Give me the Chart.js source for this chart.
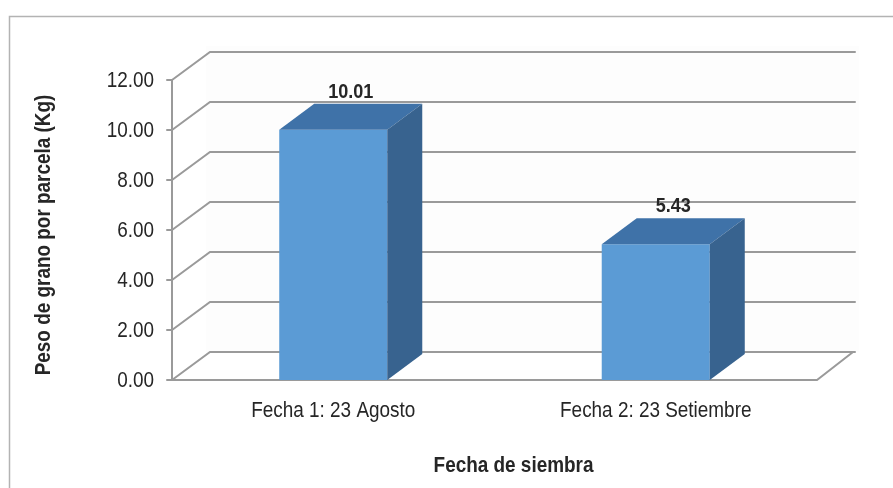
<!DOCTYPE html>
<html>
<head>
<meta charset="utf-8">
<script src="https://cdn.jsdelivr.net/npm/chart.js@4"></script>
<style>
  html, body { margin: 0; padding: 0; background: #fff; }
  canvas { display: block; }
</style>
</head>
<body>
<canvas id="canvas" width="893" height="488"></canvas>
<script>
const categories = ['Fecha 1: 23 Agosto', 'Fecha 2: 23 Setiembre']
const pesoGrano = [10.01, 5.43]
const yTicks = [0, 2, 4, 6, 8, 10, 12]
const yTitle = 'Peso de grano por parcela (Kg)'
const xTitle = 'Fecha de siembra'

// no Arial Narrow here, so Liberation Sans gets squeezed sideways
const family = '"Liberation Sans", Arial, sans-serif'
const squeeze = 0.86
const textColor = '#262626'
const gridColor = '#9a9a9a'
// depth of the walls and of the bars (3d look)
const wallDx = 38, wallDy = -28
const barDx = 35, barDy = -26

function narrowText(ctx, text, x, y, font, align, rotate) {
    ctx.save()
    ctx.translate(x, y)
    if (rotate) ctx.rotate(-Math.PI / 2)
    ctx.scale(squeeze, 1)
    ctx.font = font
    ctx.fillStyle = textColor
    ctx.textAlign = align
    ctx.textBaseline = 'middle'
    ctx.fillText(text, 0, 0)
    ctx.restore()
}

const frame = {
    id: 'frame',
    beforeDraw(chart) {
        const ctx = chart.ctx
        ctx.save()
        ctx.strokeStyle = '#b3b3b3'
        ctx.lineWidth = 1.5
        ctx.strokeRect(9.5, 16.5, 1000, 1000)
        ctx.restore()
    }
}

const walls = {
    id: 'walls',
    beforeDatasetsDraw(chart) {
        const ctx = chart.ctx
        const a = chart.chartArea
        const y = chart.scales.y
        const top = y.getPixelForValue(yTicks[yTicks.length - 1])
        const base = y.getPixelForValue(0)
        ctx.save()
        // faint back wall
        ctx.fillStyle = '#fdfdfd'
        ctx.fillRect(a.left + wallDx - 4, top + wallDy - 6, a.right - a.left + 8, base - top + 6)
        ctx.strokeStyle = gridColor
        ctx.lineWidth = 2
        ctx.lineCap = 'round'
        yTicks.forEach(v => {
            const py = y.getPixelForValue(v)
            ctx.beginPath()
            ctx.moveTo(a.left, py)
            ctx.lineTo(a.left + wallDx, py + wallDy)
            ctx.lineTo(a.right + wallDx, py + wallDy)
            ctx.stroke()
            // tick mark
            ctx.beginPath()
            ctx.moveTo(a.left - 5, py)
            ctx.lineTo(a.left, py)
            ctx.stroke()
        })
        // axis line and floor
        ctx.beginPath()
        ctx.moveTo(a.left, top)
        ctx.lineTo(a.left, base)
        ctx.lineTo(a.right, base)
        ctx.lineTo(a.right + wallDx - 2, base + wallDy)
        ctx.stroke()
        ctx.restore()
    }
}

const bars3d = {
    id: 'bars3d',
    afterDatasetsDraw(chart) {
        const ctx = chart.ctx
        const base = chart.scales.y.getPixelForValue(0)
        const meta = chart.getDatasetMeta(0)
        ctx.save()
        meta.data.forEach((bar, i) => {
            const l = bar.x - bar.width / 2
            const r = bar.x + bar.width / 2
            const t = bar.y
            // top face
            ctx.fillStyle = '#3f72a8'
            ctx.beginPath()
            ctx.moveTo(l, t)
            ctx.lineTo(r, t)
            ctx.lineTo(r + barDx, t + barDy)
            ctx.lineTo(l + barDx, t + barDy)
            ctx.closePath()
            ctx.fill()
            // side face
            ctx.fillStyle = '#38638f'
            ctx.beginPath()
            ctx.moveTo(r, t)
            ctx.lineTo(r + barDx, t + barDy)
            ctx.lineTo(r + barDx, base + barDy)
            ctx.lineTo(r, base)
            ctx.closePath()
            ctx.fill()
        })
        ctx.restore()
    }
}

const labels = {
    id: 'labels',
    afterDraw(chart) {
        const ctx = chart.ctx
        const a = chart.chartArea
        const x = chart.scales.x
        const y = chart.scales.y
        const plain = '22px ' + family
        const bold = 'bold 22px ' + family
        yTicks.forEach(v => {
            narrowText(ctx, v.toFixed(2), a.left - 18, y.getPixelForValue(v) + 1, plain, 'right')
        })
        categories.forEach((c, i) => {
            narrowText(ctx, c, x.getPixelForValue(i), a.bottom + 31, plain, 'center')
        })
        chart.getDatasetMeta(0).data.forEach((bar, i) => {
            narrowText(ctx, pesoGrano[i].toFixed(2), bar.x + barDx / 2, bar.y + barDy - 12, 'bold 21px ' + family, 'center')
        })
        narrowText(ctx, xTitle, (a.left + a.right + wallDx) / 2, a.bottom + 86, bold, 'center')
        narrowText(ctx, yTitle, 44, (a.top + a.bottom) / 2 + 5, bold, 'center', true)
    }
}

new Chart(document.getElementById('canvas').getContext('2d'), {
    type: 'bar',
    data: {
        labels: categories,
        datasets: [{
            data: pesoGrano,
            backgroundColor: '#5b9bd5',
            borderWidth: 0,
            categoryPercentage: 1,
            barPercentage: 0.335
        }]
    },
    options: {
        responsive: false,
        animation: false,
        layout: { padding: { top: 80, right: 76, left: 0, bottom: 0 } },
        plugins: {
            legend: { display: false },
            tooltip: { enabled: false }
        },
        scales: {
            x: {
                afterFit(s) { s.height = 108 },
                grid: { display: false },
                border: { display: false },
                ticks: { display: false }
            },
            y: {
                min: 0,
                max: 12,
                afterFit(s) { s.width = 172 },
                afterBuildTicks(s) { s.ticks = yTicks.map(v => ({ value: v })) },
                grid: { display: false },
                border: { display: false },
                ticks: { display: false }
            }
        }
    },
    plugins: [frame, walls, bars3d, labels]
})
</script>
</body>
</html>
